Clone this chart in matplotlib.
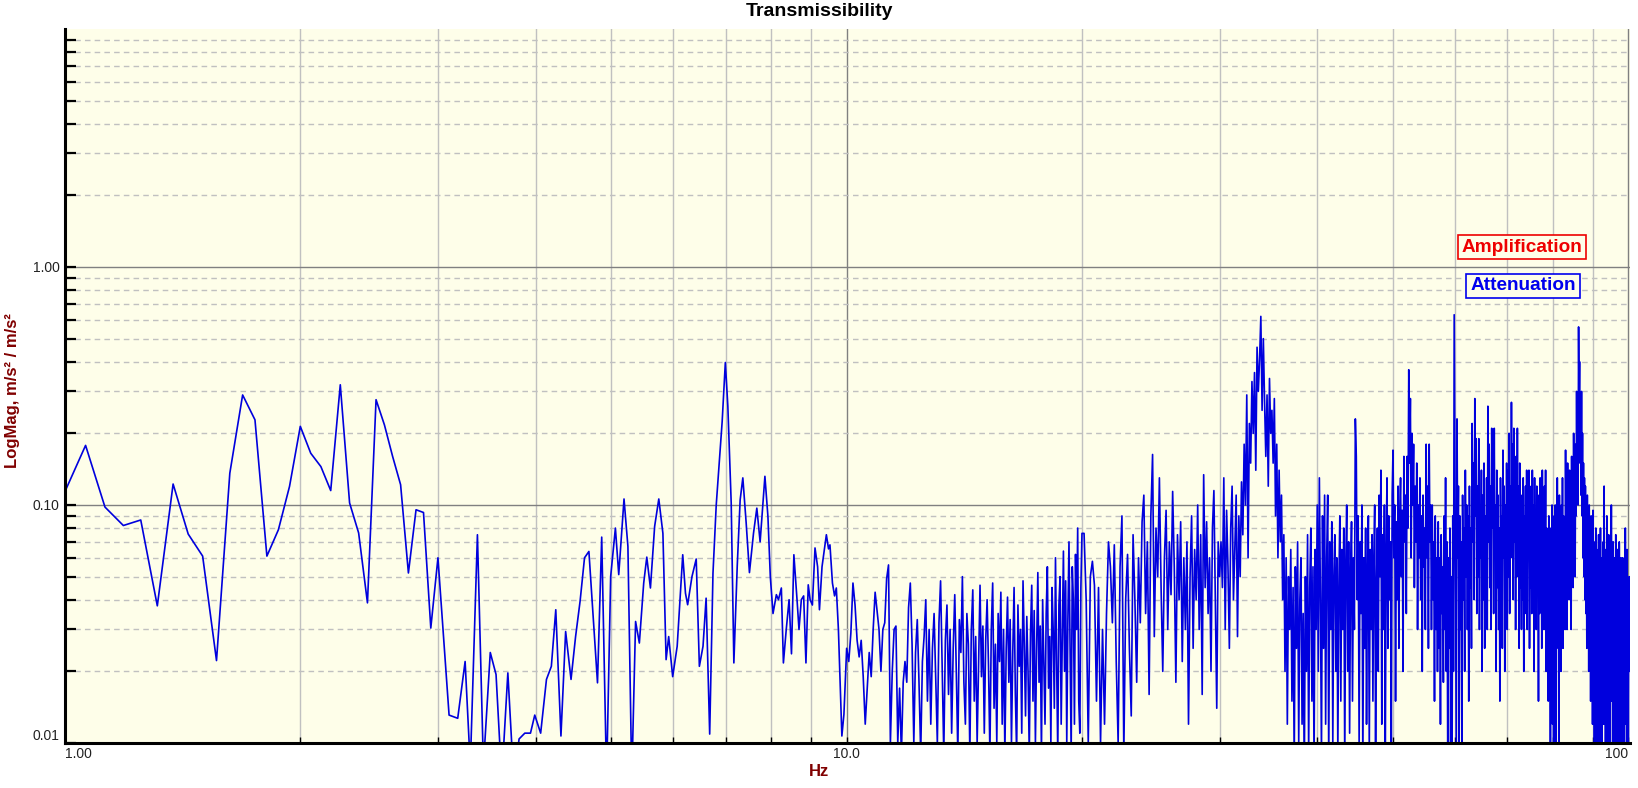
import numpy as np
import matplotlib
matplotlib.use("Agg")
import matplotlib.pyplot as plt
from matplotlib.ticker import LogLocator, NullFormatter, FixedLocator, FixedFormatter

# ---- data ----
# 1 - 10 Hz: individual points (Hz, magnitude)
low_freq = [1.0, 1.0625, 1.125, 1.1875, 1.25, 1.3125, 1.375, 1.4375, 1.5, 1.5625,
            1.625, 1.6875, 1.75, 1.8125, 1.875, 1.9375, 2.0, 2.0625, 2.125, 2.1875,
            2.25, 2.3125, 2.375, 2.4375, 2.5, 2.5625, 2.625, 2.6875, 2.75, 2.8125,
            2.875, 2.9375, 3.0, 3.10, 3.18, 3.25, 3.30, 3.37, 3.43, 3.50,
            3.56, 3.62, 3.686, 3.75, 3.81, 3.875, 3.94, 3.99, 4.06, 4.13,
            4.19, 4.245, 4.31, 4.37, 4.44, 4.50, 4.56, 4.62, 4.68, 4.73,
            4.80, 4.86, 4.93, 4.99, 5.06, 5.11, 5.19, 5.25, 5.31, 5.37,
            5.43, 5.50, 5.55, 5.61, 5.68, 5.75, 5.82, 5.875, 5.92, 5.99,
            6.07, 6.17, 6.22, 6.26, 6.34, 6.42, 6.48, 6.55, 6.61, 6.68,
            6.745, 6.81, 6.93, 6.995, 7.047, 7.117, 7.173, 7.244, 7.307, 7.365,
            7.438, 7.51, 7.6, 7.675, 7.75, 7.86, 7.93, 7.986, 8.05, 8.13,
            8.18, 8.25, 8.30, 8.37, 8.44, 8.50, 8.56, 8.64, 8.69, 8.75,
            8.81, 8.87, 8.93, 8.98, 9.04, 9.11, 9.18, 9.23, 9.30, 9.42,
            9.48, 9.52, 9.59, 9.65, 9.70, 9.76, 9.86, 9.92, 10.0]
low_mag = [0.114, 0.178, 0.098, 0.082, 0.0865, 0.0377, 0.1225, 0.0755, 0.061, 0.0222,
           0.136, 0.29, 0.228, 0.061, 0.0787, 0.1197, 0.214, 0.165, 0.145, 0.115,
           0.32, 0.102, 0.0763, 0.0388, 0.277, 0.217, 0.16, 0.1217, 0.0518, 0.0955,
           0.093, 0.0304, 0.060, 0.0131, 0.0127, 0.022, 0.008, 0.075, 0.008, 0.024,
           0.0194, 0.007, 0.0197, 0.007, 0.0104, 0.011, 0.011, 0.0131, 0.011, 0.0185,
           0.021, 0.0363, 0.0107, 0.0294, 0.0185, 0.028, 0.0394, 0.060, 0.0638, 0.0375,
           0.0179, 0.0733, 0.007, 0.0501, 0.080, 0.051, 0.106, 0.067, 0.007, 0.0324,
           0.0263, 0.047, 0.0604, 0.0448, 0.0813, 0.106, 0.076, 0.0224, 0.028, 0.019,
           0.0255, 0.0618, 0.0426, 0.0381, 0.050, 0.0593, 0.021, 0.0255, 0.0406, 0.0109,
           0.0517, 0.10, 0.224, 0.397, 0.26, 0.102, 0.0217, 0.055, 0.105, 0.13,
           0.084, 0.052, 0.076, 0.097, 0.070, 0.132, 0.0895, 0.05, 0.035, 0.042,
           0.040, 0.0448, 0.0217, 0.030, 0.040, 0.0237, 0.0618, 0.040, 0.030, 0.040,
           0.0415, 0.0217, 0.0462, 0.040, 0.038, 0.066, 0.055, 0.0363, 0.055, 0.075,
           0.0654, 0.068, 0.047, 0.0415, 0.0448, 0.030, 0.0107, 0.0132, 0.025]

# 10 - 20 Hz, one value every 0.0625 Hz (starting at 10.0625)
band1_step = 0.0625
band1_mag = [0.022, 0.029, 0.047, 0.038, 0.027, 0.023, 0.027, 0.019, 0.012, 0.017, 0.024, 0.019, 0.030, 0.043, 0.036, 0.030,
             0.020, 0.030, 0.032, 0.049, 0.056, 0.010, 0.020, 0.030, 0.031, 0.010, 0.017, 0.009, 0.018, 0.022, 0.018, 0.037,
             0.047, 0.026, 0.010, 0.024, 0.033, 0.018, 0.009, 0.022, 0.028, 0.040, 0.015, 0.030, 0.012, 0.025, 0.035, 0.019,
             0.010, 0.032, 0.048, 0.021, 0.009, 0.027, 0.038, 0.016, 0.030, 0.011, 0.025, 0.042, 0.020, 0.009, 0.033, 0.024,
             0.050, 0.018, 0.012, 0.035, 0.026, 0.009, 0.030, 0.044, 0.015, 0.028, 0.010, 0.022, 0.046, 0.019, 0.031, 0.011,
             0.027, 0.040, 0.021, 0.009, 0.030, 0.047, 0.014, 0.026, 0.010, 0.035, 0.022, 0.043, 0.012, 0.030, 0.009, 0.025,
             0.041, 0.018, 0.033, 0.010, 0.024, 0.045, 0.016, 0.009, 0.038, 0.021, 0.030, 0.011, 0.048, 0.026, 0.013, 0.034,
             0.020, 0.009, 0.029, 0.046, 0.015, 0.036, 0.010, 0.025, 0.052, 0.018, 0.031, 0.009, 0.040, 0.022, 0.012, 0.035,
             0.055, 0.017, 0.028, 0.010, 0.045, 0.030, 0.014, 0.060, 0.022, 0.009, 0.038, 0.050, 0.012, 0.027, 0.064, 0.020,
             0.048, 0.010, 0.033, 0.070, 0.025, 0.009, 0.055, 0.040, 0.012, 0.062, 0.030, 0.080, 0.015, 0.011, 0.045, 0.076]

# 20 - 30 Hz, one value every 0.125 Hz (starting at 20.125)
band2_step = 0.125
band2_mag = [0.076, 0.040, 0.010, 0.050, 0.058, 0.046, 0.015, 0.045,
             0.010, 0.030, 0.012, 0.035, 0.070, 0.055, 0.032, 0.068,
             0.022, 0.010, 0.055, 0.090, 0.009, 0.040, 0.062, 0.025,
             0.013, 0.075, 0.040, 0.018, 0.060, 0.032, 0.085, 0.110,
             0.035, 0.070, 0.016, 0.090, 0.163, 0.028, 0.080, 0.050,
             0.130, 0.045, 0.020, 0.060, 0.095, 0.030, 0.070, 0.042,
             0.114, 0.055, 0.018, 0.075, 0.040, 0.085, 0.022, 0.060,
             0.030, 0.070, 0.012, 0.050, 0.090, 0.025, 0.065, 0.040,
             0.100, 0.030, 0.075, 0.016, 0.134, 0.045, 0.085, 0.035,
             0.060, 0.020, 0.080, 0.115, 0.040, 0.014, 0.070, 0.050]

# 30 - 100.5 Hz, one value every 0.125 Hz (starting at 30.125)
band3_step = 0.125
band3_mag = [
    0.070, 0.045, 0.130, 0.030, 0.095, 0.055, 0.025, 0.080,
    0.120, 0.040, 0.065, 0.110, 0.028, 0.090, 0.050, 0.125,
    0.075, 0.180, 0.100, 0.290, 0.060, 0.220, 0.150, 0.330,
    0.200, 0.360, 0.140, 0.460, 0.300, 0.410, 0.620, 0.250,
    0.500, 0.270, 0.160, 0.290, 0.120, 0.340, 0.200, 0.250,
    0.150, 0.280, 0.090, 0.180, 0.060, 0.140, 0.070, 0.110,
    0.040, 0.075, 0.020, 0.060, 0.012, 0.050, 0.030, 0.065,
    0.015, 0.045, 0.008, 0.055, 0.025, 0.070, 0.010, 0.040,
    0.060, 0.012, 0.035, 0.007, 0.050, 0.020, 0.075, 0.009,
    0.045, 0.080, 0.015, 0.055, 0.008, 0.065, 0.030, 0.100,
    0.020, 0.130, 0.040, 0.009, 0.090, 0.025, 0.110, 0.012,
    0.060, 0.110, 0.008, 0.070, 0.030, 0.085, 0.010, 0.050,
    0.075, 0.020, 0.060, 0.009, 0.045, 0.090, 0.015, 0.065,
    0.030, 0.080, 0.008, 0.055, 0.100, 0.020, 0.070, 0.011,
    0.050, 0.085, 0.015, 0.060, 0.030, 0.230, 0.160, 0.040,
    0.090, 0.010, 0.070, 0.035, 0.100, 0.008, 0.060, 0.025,
    0.080, 0.012, 0.050, 0.090, 0.009, 0.065, 0.030, 0.075,
    0.015, 0.060, 0.100, 0.009, 0.045, 0.080, 0.020, 0.110,
    0.050, 0.140, 0.012, 0.075, 0.030, 0.100, 0.008, 0.065,
    0.130, 0.025, 0.090, 0.040, 0.070, 0.010, 0.110, 0.170,
    0.060, 0.100, 0.015, 0.085, 0.040, 0.120, 0.025, 0.090,
    0.130, 0.050, 0.095, 0.020, 0.160, 0.070, 0.110, 0.035,
    0.160, 0.080, 0.370, 0.150, 0.280, 0.060, 0.200, 0.100,
    0.180, 0.045, 0.120, 0.070, 0.150, 0.030, 0.100, 0.060,
    0.130, 0.040, 0.090, 0.020, 0.110, 0.055, 0.080, 0.030,
    0.180, 0.060, 0.120, 0.025, 0.180, 0.070, 0.100, 0.030,
    0.100, 0.040, 0.070, 0.015, 0.090, 0.030, 0.060, 0.020,
    0.085, 0.025, 0.060, 0.012, 0.075, 0.035, 0.055, 0.018,
    0.090, 0.030, 0.130, 0.020, 0.070, 0.008, 0.060, 0.025,
    0.080, 0.010, 0.050, 0.007, 0.090, 0.020, 0.630, 0.150,
    0.040, 0.009, 0.230, 0.060, 0.120, 0.008, 0.090, 0.030,
    0.070, 0.010, 0.110, 0.040, 0.080, 0.020, 0.140, 0.050,
    0.100, 0.030, 0.090, 0.015, 0.120, 0.045, 0.080, 0.025,
    0.220, 0.070, 0.150, 0.040, 0.280, 0.090, 0.190, 0.035,
    0.120, 0.050, 0.190, 0.030, 0.100, 0.060, 0.140, 0.020,
    0.110, 0.040, 0.150, 0.025, 0.090, 0.050, 0.130, 0.030,
    0.260, 0.070, 0.180, 0.045, 0.120, 0.030, 0.210, 0.080,
    0.150, 0.035, 0.210, 0.060, 0.100, 0.020, 0.140, 0.045,
    0.110, 0.030, 0.080, 0.015, 0.130, 0.050, 0.090, 0.025,
    0.170, 0.060, 0.120, 0.020, 0.100, 0.040, 0.150, 0.030,
    0.140, 0.050, 0.200, 0.035, 0.120, 0.060, 0.270, 0.080,
    0.180, 0.040, 0.210, 0.070, 0.130, 0.030, 0.160, 0.050,
    0.210, 0.060, 0.120, 0.025, 0.150, 0.045, 0.100, 0.030,
    0.110, 0.040, 0.130, 0.020, 0.090, 0.050, 0.120, 0.035,
    0.140, 0.030, 0.100, 0.060, 0.140, 0.025, 0.090, 0.045,
    0.120, 0.035, 0.140, 0.050, 0.100, 0.020, 0.130, 0.040,
    0.090, 0.030, 0.120, 0.045, 0.080, 0.015, 0.110, 0.035,
    0.130, 0.050, 0.100, 0.025, 0.140, 0.040, 0.090, 0.030,
    0.120, 0.045, 0.140, 0.020, 0.080, 0.035, 0.070, 0.015,
    0.090, 0.025, 0.060, 0.009, 0.080, 0.030, 0.100, 0.012,
    0.070, 0.008, 0.090, 0.030, 0.100, 0.010, 0.060, 0.025,
    0.130, 0.040, 0.080, 0.008, 0.110, 0.030, 0.070, 0.020,
    0.100, 0.035, 0.130, 0.025, 0.090, 0.045, 0.080, 0.030,
    0.170, 0.050, 0.120, 0.030, 0.150, 0.060, 0.100, 0.040,
    0.140, 0.050, 0.110, 0.030, 0.160, 0.070, 0.120, 0.045,
    0.200, 0.080, 0.150, 0.050, 0.180, 0.090, 0.300, 0.120,
    0.220, 0.100, 0.560, 0.250, 0.400, 0.150, 0.290, 0.110,
    0.300, 0.090, 0.200, 0.060, 0.150, 0.050, 0.130, 0.040,
    0.120, 0.035, 0.090, 0.025, 0.110, 0.040, 0.080, 0.020,
    0.100, 0.030, 0.070, 0.015, 0.090, 0.025, 0.060, 0.012,
    0.095, 0.020, 0.070, 0.009, 0.060, 0.030, 0.080, 0.010,
    0.065, 0.008, 0.050, 0.025, 0.075, 0.009, 0.055, 0.020,
    0.080, 0.010, 0.060, 0.007, 0.045, 0.030, 0.070, 0.012,
    0.120, 0.020, 0.065, 0.008, 0.055, 0.025, 0.090, 0.010,
    0.060, 0.009, 0.075, 0.030, 0.050, 0.007, 0.065, 0.020,
    0.100, 0.015, 0.055, 0.008, 0.070, 0.025, 0.045, 0.009,
    0.060, 0.020, 0.075, 0.007, 0.050, 0.030, 0.065, 0.010,
    0.055, 0.008, 0.070, 0.020, 0.045, 0.009, 0.060, 0.015,
    0.050, 0.007, 0.060, 0.025, 0.040, 0.008, 0.055, 0.012,
    0.080, 0.020, 0.050, 0.007, 0.065, 0.015, 0.045, 0.009,
    0.035, 0.050, 0.020, 0.040]

x_ticks = [1, 10, 100]
x_tick_labels = ["1.00", "10.0", "100"]
y_ticks = [0.01, 0.1, 1]
y_tick_labels = ["0.01", "0.10", "1.00"]

# frequency bins of the evenly spaced parts
band1_freq = 10 + band1_step * np.arange(1, len(band1_mag) + 1)
band2_freq = 20 + band2_step * np.arange(1, len(band2_mag) + 1)
band3_freq = 30 + band3_step * np.arange(1, len(band3_mag) + 1)

freq = np.concatenate([low_freq, band1_freq, band2_freq, band3_freq])
mag = np.concatenate([low_mag, band1_mag, band2_mag, band3_mag])

plt.rcParams['font.family'] = ['Liberation Sans', 'DejaVu Sans']

fig = plt.figure(figsize=(16.38, 7.88), dpi=100)
ax = fig.add_axes([65 / 1638, 45 / 788, 1565 / 1638, 714 / 788])
ax.set_facecolor('#fefee9')

ax.plot(freq, mag, color='#0000dd', linewidth=1.2)

ax.set_xscale('log')
ax.set_yscale('log')
ax.set_xlim(1, 100.5)
ax.set_ylim(0.01, 10)

# grid
ax.xaxis.set_minor_locator(LogLocator(base=10, subs=np.arange(2, 10)))
ax.yaxis.set_minor_locator(LogLocator(base=10, subs=np.arange(2, 10)))
ax.xaxis.set_minor_formatter(NullFormatter())
ax.yaxis.set_minor_formatter(NullFormatter())
ax.grid(True, which='major', axis='both', color='#808080', linestyle='-', linewidth=1.0)
ax.grid(True, which='minor', axis='x', color='#c0c0c0', linestyle='-', linewidth=1.0)
ax.grid(True, which='minor', axis='y', color='#c0c0c0', linestyle=(0, (4, 3)), linewidth=1.0)
ax.set_axisbelow(True)

ax.xaxis.set_major_locator(FixedLocator(x_ticks))
ax.xaxis.set_major_formatter(FixedFormatter(x_tick_labels))
ax.yaxis.set_major_locator(FixedLocator(y_ticks))
ax.yaxis.set_major_formatter(FixedFormatter(y_tick_labels))

ax.tick_params(axis='both', which='both', direction='in', color='black')
ax.tick_params(axis='y', which='both', length=8, width=1.6, labelsize=10, labelcolor='#222222', pad=4)
ax.tick_params(axis='x', which='both', length=4, width=1.0, labelsize=10, labelcolor='#222222', pad=3)

for side in ['top', 'right']:
    ax.spines[side].set_visible(False)
for side in ['left', 'bottom']:
    ax.spines[side].set_linewidth(2.2)
    ax.spines[side].set_color('black')

fig.canvas.draw()
xl = ax.get_xticklabels()
xl[0].set_horizontalalignment('left')
xl[-1].set_horizontalalignment('right')
yl = ax.get_yticklabels()
yl[0].set_verticalalignment('bottom')

# titles and axis names
fig.text(0.5, 1 - 11 / 788, 'Transmissibility', ha='center', va='center',
         fontsize=14, fontweight='bold', color='black')
fig.text(12.5 / 1638, 1 - 391 / 788, 'LogMag, m/s² / m/s²', ha='center', va='center',
         rotation=90, fontsize=12, fontweight='bold', color='#800000')
fig.text(819 / 1638, 1 - 772 / 788, 'Hz', ha='center', va='center',
         fontsize=12, fontweight='bold', color='#800000')

# boxed notes
fig.text(1522 / 1638, 1 - 247 / 788, 'Amplification', ha='center', va='center',
         fontsize=13.7, fontweight='bold', color='#ee0000',
         bbox=dict(boxstyle='square,pad=0.2', facecolor='#fefee9', edgecolor='#ee0000', linewidth=1.2))
fig.text(1523 / 1638, 1 - 286 / 788, 'Attenuation', ha='center', va='center',
         fontsize=13.7, fontweight='bold', color='#0000ee',
         bbox=dict(boxstyle='square,pad=0.2', facecolor='#fefee9', edgecolor='#0000ee', linewidth=1.2))

fig.savefig('out.png', dpi=100, facecolor='white')
